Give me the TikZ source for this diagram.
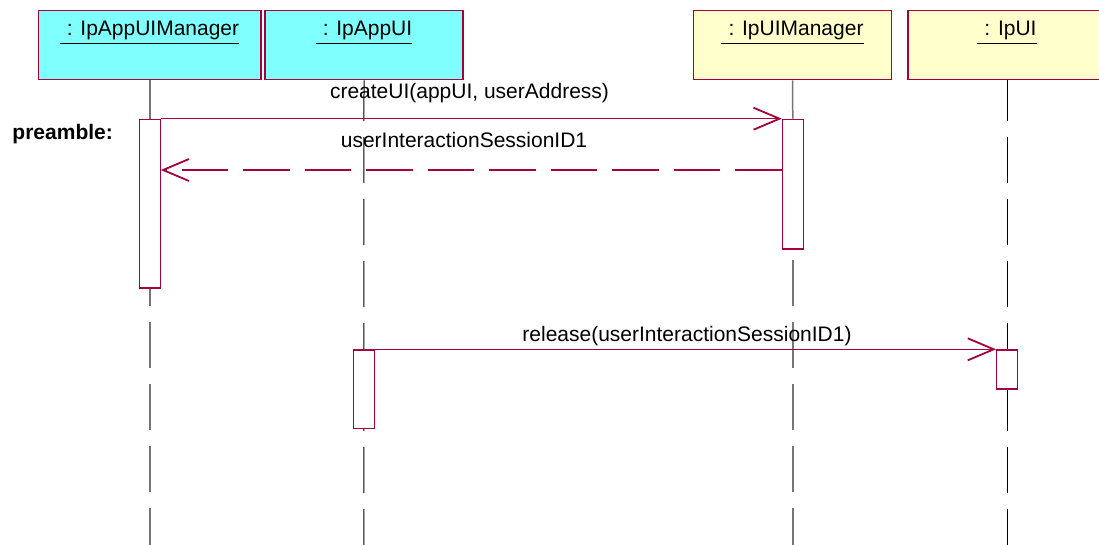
\documentclass[tikz,border=0pt]{standalone}
\usepackage{fontspec}
\setmainfont{Liberation Sans}
\usetikzlibrary{arrows.meta}
\definecolor{umlred}{RGB}{165,0,60}
\definecolor{boxcyan}{RGB}{128,255,255}
\definecolor{boxyellow}{RGB}{255,255,204}
\definecolor{lifegray}{RGB}{118,118,118}
\pgfdeclarelayer{bg}
\pgfsetlayers{bg,main}
\begin{document}
\begin{tikzpicture}[x=1pt,y=-1pt,
  font=\fontsize{21}{25}\selectfont,
  objbox/.style={draw=umlred, line width=1.2pt, minimum height=69.5pt, inner sep=0pt, anchor=north},
  objtitle/.style={inner sep=0pt, anchor=base, text=black},
  uline/.style={line width=1.6pt, black},
  actbox/.style={draw=umlred, fill=white, line width=1.2pt, minimum width=20.7pt, inner sep=0pt, anchor=north},
  lifesolid/.style={line width=1.5pt},
  lifedash/.style={line width=1.5pt, dash pattern=on 46pt off 16pt},
  blackdash/.style={line width=1pt, dash pattern=on 46pt off 16pt},
  msg/.style={draw=umlred, line width=1.1pt, -{Straight Barb[length=26pt,width=22pt,line width=1.8pt]}},
  retmsg/.style={msg, dash pattern=on 46.5pt off 15pt},
  lbl/.style={inner sep=0pt, anchor=base, text=black}
]
\useasboundingbox (0,0) rectangle (1099,545);
\clip (0,0) rectangle (1099,545);

% object boxes
\node[objbox, fill=boxcyan, minimum width=222.4pt] (o1) at (149.8,9.8) {};
\node[objbox, fill=boxcyan, minimum width=198pt] (o2) at (364,9.8) {};
\node[objbox, fill=boxyellow, minimum width=198pt] (o3) at (792.5,9.8) {};
\node[objbox, fill=boxyellow, minimum width=198pt] (o4) at (1007,9.8) {};

% titles
\node[objtitle] (t1) at (153,36) {: IpAppUIManager};
\node[objtitle] (t2) at (367.5,36) {: IpAppUI};
\node[objtitle] (t3) at (796,36) {: IpUIManager};
\node[objtitle] (t4) at (1010.5,36) {: IpUI};
\foreach \t in {t1,t2,t3,t4}
  \draw[uline] ([xshift=-7pt,yshift=-7.5pt]\t.base west) -- ([yshift=-7.5pt]\t.base east);

% activation boxes
\node[actbox, minimum height=168.6pt] (a1) at (149.8,118.7) {};
\node[actbox, minimum height=129.6pt] (a3) at (792.8,118.7) {};
\node[actbox, minimum height=78.4pt] (a2) at (363.8,349.3) {};
\node[actbox, minimum height=39pt] (a4) at (1007,349.3) {};

% lifeline ends
\coordinate (e1) at (149.8,545);
\coordinate (e2) at (363.8,545);
\coordinate (e3) at (792.8,545);
\coordinate (e4) at (1007,545);

\begin{pgfonlayer}{bg}
\draw[lifesolid, lifegray] (o1.south) -- (a1.north);
\draw[lifedash, lifegray, dash phase=44.7pt] (a1.north) -- (e1);
\draw[lifesolid, lifegray] (o3.south) -- (a3.north);
\draw[lifedash, lifegray, dash phase=44.7pt] (a3.north) -- (e3);
\draw[blackdash, black, dash phase=5.3pt] (o2.south) -- (e2);
\draw[blackdash, black, dash phase=5.3pt] (o4.south) -- (e4);
\end{pgfonlayer}

% messages
\draw[msg] (a1.north east) -- (a3.north west);
\draw[retmsg] ([yshift=-51.3pt]a3.north west) -- ([yshift=-51.3pt]a1.north east);
\draw[msg] (a2.north east) -- (a4.north west);

% labels
\node[lbl] (m1) at (469.5,98.3) {createUI(appUI, userAddress)};
\node[lbl] (m2) at (464,147.7) {userInteractionSessionID1};
\node[lbl] (m3) at (687,341.7) {release(userInteractionSessionID1)};
\node[inner sep=0pt, anchor=base west, font=\fontsize{21}{25}\selectfont\bfseries] (pre) at (12.3,139.5) {preamble:};
\end{tikzpicture}
\end{document}
